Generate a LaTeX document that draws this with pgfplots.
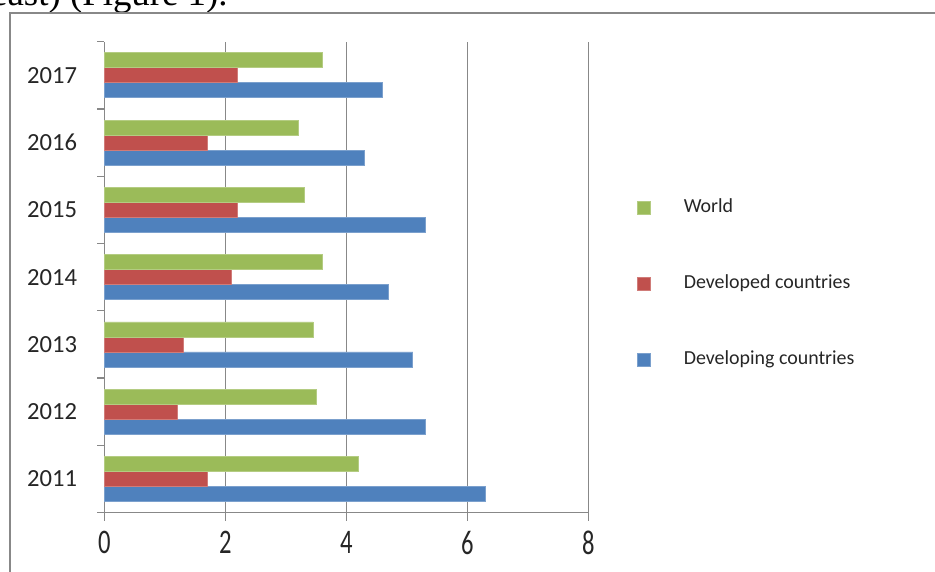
\documentclass[border=0pt]{standalone}
\usepackage{fontspec}
\setmainfont{Carlito}
\newfontfamily\serif{Liberation Serif}
\usepackage{pgfplots}
\pgfplotsset{compat=1.18}

\definecolor{xlblue}{HTML}{4F81BD}
\definecolor{xlred}{HTML}{C0504D}
\definecolor{xlgreen}{HTML}{9BBB59}
\definecolor{xlgray}{HTML}{888888}

% growth by year: developing, developed, world
\pgfplotstableread{
idx year developing developed world
0 2011 6.3 1.7 4.2
1 2012 5.3 1.2 3.5
2 2013 5.1 1.3 3.45
3 2014 4.7 2.1 3.6
4 2015 5.3 2.2 3.3
5 2016 4.3 1.7 3.2
6 2017 4.6 2.2 3.6
}\growth

\newcommand{\tl}[1]{\scalebox{1}[1.4]{#1}}

\begin{document}
\begin{tikzpicture}[x=1bp,y=1bp]
\useasboundingbox (0,0) rectangle (935,572);
% cropped text of the page above the chart
\node[anchor=base west, inner sep=0pt, font=\serif\fontsize{37}{39}\selectfont]
  at (-9,566) {east) (Figure 1).};
% outer frame of the chart area
\draw[xlgray, line width=2bp] (10,-5) -- (10,558.5) -- (945,558.5);

\begin{axis}[
  at={(104.3bp,59.3bp)}, anchor=south west,
  scale only axis, width=484bp, height=471bp,
  xbar=0pt, bar width=15bp,
  xmin=0, xmax=8, ymin=-0.5, ymax=6.5,
  axis x line*=bottom, axis y line*=left,
  axis line style={xlgray, line width=1.3bp},
  xtick={0,2,4,6,8},
  xticklabels={\tl{0},\tl{2},\tl{4},\tl{6},\tl{8}},
  ytick={0,...,6},
  yticklabels={2011,2012,2013,2014,2015,2016,2017},
  minor ytick={-0.5,0.5,...,6.5},
  tick align=outside,
  major tick length=8bp, minor tick length=7bp,
  x tick style={xlgray, line width=1.3bp},
  y tick style={draw=none},
  minor y tick style={draw=xlgray, line width=1.3bp},
  xmajorgrids,
  major x grid style={xlgray, line width=1.3bp},
  ticklabel style={font=\fontsize{24.7}{26}\selectfont, text=black!85, inner sep=0pt},
  xticklabel style={anchor=north, yshift=-10bp},
  yticklabel style={anchor=east, xshift=-19bp},
  clip=false,
  reverse legend,
  legend cell align=left,
  legend style={
    at={(1.1006,0.666)}, anchor=north west,
    draw=none, fill=none, inner sep=0pt, outer sep=0pt,
    font=\fontsize{20}{22}\selectfont, text=black!85,
    row sep=58bp,
    nodes={inner sep=0pt, text height=13bp, text depth=5bp},
    /tikz/every odd column/.append style={column sep=33bp},
  },
  legend image code/.code={\fill[#1] (0bp,-6.5bp) rectangle (13bp,6.5bp);},
]
\addplot[fill=xlblue, draw=xlblue!75!white, line width=0.8bp] table[x=developing, y=idx] {\growth};
\addlegendentry{Developing countries}
\addplot[fill=xlred, draw=xlred!75!white, line width=0.8bp] table[x=developed, y=idx] {\growth};
\addlegendentry{Developed countries}
\addplot[fill=xlgreen, draw=xlgreen!75!white, line width=0.8bp] table[x=world, y=idx] {\growth};
\addlegendentry{World}
\end{axis}
\end{tikzpicture}
\end{document}
